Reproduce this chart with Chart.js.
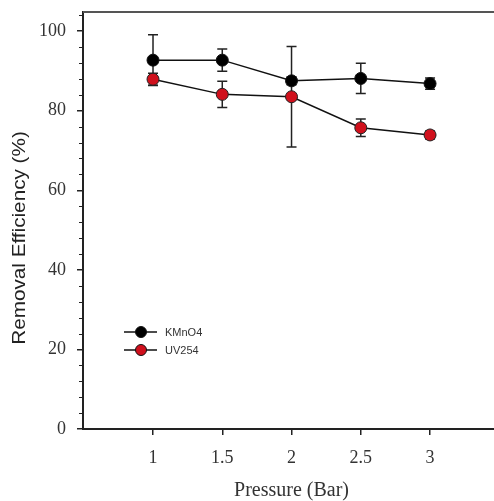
<!DOCTYPE html>
<html>
<head>
<meta charset="utf-8">
<script src="https://cdn.jsdelivr.net/npm/chart.js@4.4.1/dist/chart.umd.min.js"></script>
<style>
html,body{margin:0;padding:0;background:#fff;overflow:hidden;}
#wrap{width:507px;height:501px;position:relative;}
</style>
</head>
<body>
<div id="wrap"><canvas id="c" width="507" height="501"></canvas></div>
<script>
const pressures = [1, 1.5, 2, 2.5, 3];
const kmno4 = [92.7, 92.7, 87.5, 88.1, 86.8];
const kmno4Err = [6.4, 2.8, 1.0, 3.8, 1.4];
const uv254 = [87.9, 84.1, 83.5, 75.7, 73.9];
const uv254Err = [1.5, 3.3, 12.6, 2.2, 1.0];
const xTicks = [1, 1.5, 2, 2.5, 3];
const yTicks = [0, 20, 40, 60, 80, 100];
const yMinorTicks = [4,8,12,16,24,28,32,36,44,48,52,56,64,68,72,76,84,88,92,96,104];
const seriesNames = ['KMnO4', 'UV254'];
const yTitle = 'Removal Efficiency (%)';
const xTitle = 'Pressure (Bar)';

const errs = [kmno4Err, uv254Err];

const errorBars = {
  id: 'errorBars',
  beforeDatasetsDraw(chart) {
    const ctx = chart.ctx, xs = chart.scales.x, ys = chart.scales.y;
    ctx.save();
    ctx.strokeStyle = '#222';
    ctx.lineWidth = 1.5;
    chart.data.datasets.forEach((ds, di) => {
      ds.data.forEach((p, i) => {
        const e = errs[di][i];
        const x = xs.getPixelForValue(p.x);
        const yt = ys.getPixelForValue(p.y + e);
        const yb = ys.getPixelForValue(p.y - e);
        ctx.beginPath();
        ctx.moveTo(x, yt); ctx.lineTo(x, yb);
        ctx.moveTo(x - 5, yt); ctx.lineTo(x + 5, yt);
        ctx.moveTo(x - 5, yb); ctx.lineTo(x + 5, yb);
        ctx.stroke();
      });
    });
    ctx.restore();
  },
  afterDraw(chart) {
    const ctx = chart.ctx, ys = chart.scales.y, a = chart.chartArea;
    ctx.save();
    // top frame
    ctx.strokeStyle = '#555';
    ctx.lineWidth = 2;
    ctx.beginPath();
    ctx.moveTo(a.left, a.top); ctx.lineTo(a.right + 2, a.top);
    ctx.stroke();
    // minor ticks
    ctx.strokeStyle = '#222';
    ctx.lineWidth = 1;
    ctx.beginPath();
    yMinorTicks.forEach(v => {
      const y = Math.round(ys.getPixelForValue(v)) + 0.5;
      ctx.moveTo(a.left - 4, y); ctx.lineTo(a.left, y);
    });
    ctx.stroke();
    // y title
    ctx.fillStyle = '#222';
    ctx.font = '18px "Liberation Sans", Arial, sans-serif';
    ctx.textAlign = 'center';
    ctx.textBaseline = 'middle';
    ctx.translate(20, 238);
    ctx.rotate(-Math.PI / 2);
    ctx.scale(1.15, 1);
    ctx.fillText(yTitle, 0, 0);
    ctx.restore();
    // legend
    ctx.save();
    const items = [{y: 332, fill: '#000'}, {y: 350, fill: '#d0101c'}];
    items.forEach((it, i) => {
      ctx.strokeStyle = '#111';
      ctx.lineWidth = 1.5;
      ctx.beginPath();
      ctx.moveTo(124, it.y); ctx.lineTo(157, it.y);
      ctx.stroke();
      ctx.beginPath();
      ctx.arc(141, it.y, 5.5, 0, Math.PI * 2);
      ctx.fillStyle = it.fill;
      ctx.fill();
      ctx.lineWidth = 1;
      ctx.strokeStyle = '#111';
      ctx.stroke();
      ctx.fillStyle = '#333';
      ctx.font = '11px "Liberation Sans", Arial, sans-serif';
      ctx.textAlign = 'left';
      ctx.textBaseline = 'middle';
      ctx.fillText(seriesNames[i], 165, it.y + 0.5);
    });
    ctx.restore();
  }
};

new Chart(document.getElementById('c'), {
  type: 'line',
  data: {
    datasets: [
      {
        label: seriesNames[0],
        data: pressures.map((x, i) => ({x, y: kmno4[i]})),
        borderColor: '#111',
        borderWidth: 1.5,
        backgroundColor: '#000',
        pointBackgroundColor: '#000',
        pointBorderColor: '#111',
        pointBorderWidth: 1,
        pointRadius: 6,
        tension: 0,
        order: 2
      },
      {
        label: seriesNames[1],
        data: pressures.map((x, i) => ({x, y: uv254[i]})),
        borderColor: '#111',
        borderWidth: 1.5,
        backgroundColor: '#d0101c',
        pointBackgroundColor: '#d0101c',
        pointBorderColor: '#222',
        pointBorderWidth: 1,
        pointRadius: 6,
        tension: 0,
        order: 1
      }
    ]
  },
  options: {
    responsive: false,
    animation: false,
    layout: {padding: {top: 12, right: 0, left: 0, bottom: 0}},
    plugins: {legend: {display: false}, tooltip: {enabled: false}},
    scales: {
      x: {
        type: 'linear',
        min: 0.4946,
        max: 3.505,
        afterBuildTicks(s) { s.ticks = xTicks.map(v => ({value: v})); },
        afterFit(s) { s.height = 72; s.paddingLeft = 0; s.paddingRight = 0; },
        border: {display: true, color: '#222', width: 2},
        grid: {display: true, drawOnChartArea: false, drawTicks: true, tickLength: 6, color: '#222', lineWidth: 1.5},
        ticks: {
          color: '#333',
          padding: 12,
          maxRotation: 0,
          font: {family: '"Liberation Serif", "Times New Roman", serif', size: 18},
          callback: v => String(v)
        },
        title: {
          display: true,
          text: xTitle,
          color: '#333',
          padding: {top: 0, bottom: 0},
          font: {family: '"Liberation Serif", "Times New Roman", serif', size: 20, lineHeight: 1.0}
        }
      },
      y: {
        type: 'linear',
        min: 0,
        max: 104.8,
        afterBuildTicks(s) { s.ticks = yTicks.map(v => ({value: v})); },
        afterFit(s) { s.width = 83; s.paddingTop = 0; s.paddingBottom = 0; },
        border: {display: true, color: '#222', width: 2},
        grid: {display: true, drawOnChartArea: false, drawTicks: true, tickLength: 6, color: '#222', lineWidth: 1.5},
        ticks: {
          color: '#333',
          padding: 11,
          font: {family: '"Liberation Serif", "Times New Roman", serif', size: 18},
          callback: v => String(v)
        },
        title: {display: false}
      }
    }
  },
  plugins: [errorBars]
});
</script>
</body>
</html>
